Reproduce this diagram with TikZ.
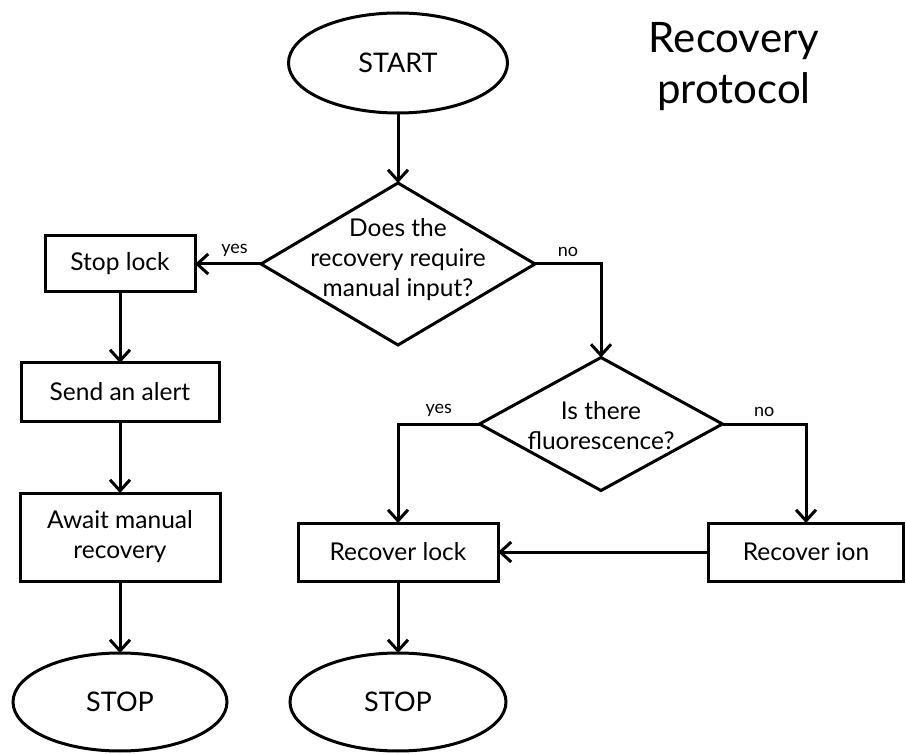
\documentclass[tikz,border=0pt]{standalone}
\usepackage{fontspec}
\setmainfont{Lato}
\usetikzlibrary{shapes.geometric,arrows.meta}

\tikzset{
  every node/.style={outer sep=0pt},
  flow/.style={line width=3pt, -{Straight Barb[length=11pt,width=20pt,line width=3pt]}},
  terminal/.style={ellipse, draw, line width=3pt, inner sep=0pt,
    font=\fontsize{27}{32}\selectfont},
  stepbox/.style={rectangle, draw, line width=3pt, inner sep=0pt, align=center,
    font=\fontsize{24.5}{30}\selectfont},
  decision/.style={diamond, draw, line width=3pt, inner sep=0pt,
    minimum width=#1},
  qtext/.style={align=center, inner sep=0pt, font=\fontsize{24.5}{30}\selectfont},
  lbl/.style={font=\fontsize{18}{20}\selectfont, inner sep=0pt},
}

\begin{document}
\begin{tikzpicture}[x=1pt, y=-1pt]
  \useasboundingbox (0,0) rectangle (906,754);

  % title
  \node[align=center, font=\fontsize{42}{51}\selectfont] (title) at (734,67)
    {Recovery\\protocol};

  % terminals
  \node[terminal, minimum width=219pt, minimum height=100pt] (start) at (398,63) {START};
  \node[terminal, minimum width=214pt, minimum height=98pt] (stopA) at (120,702) {STOP};
  \node[terminal, minimum width=216pt, minimum height=98pt] (stopB) at (398,702) {STOP};

  % decisions (text placed on a separate node)
  \node[decision=274pt, minimum height=162pt] (q1) at (398,264) {};
  \node[qtext] (q1t) at (398,260) {Does the\\recovery require\\manual input?};
  \node[decision=243pt, minimum height=133pt] (q2) at (601,424) {};
  \node[qtext] (q2t) at (601,426) {Is there\\fluorescence?};

  % process boxes
  \node[stepbox, minimum width=150pt, minimum height=56pt] (stoplock) at (120,264) {Stop lock};
  \node[stepbox, minimum width=198pt, minimum height=58pt] (alert) at (120,392) {Send an alert};
  \node[stepbox, minimum width=200pt, minimum height=88pt] (await) at (120,537) {Await manual\\recovery};
  \node[stepbox, minimum width=200pt, minimum height=58pt] (reclock) at (398,552) {Recover lock};
  \node[stepbox, minimum width=195pt, minimum height=58pt] (recion) at (806,552) {Recover ion};

  % connectors
  \draw[flow] (start) -- (q1);
  \draw[flow] (q1.west) -- node[lbl, pos=0.4, above=7pt] (yes1) {yes} (stoplock.east);
  \draw[flow] (q1.east) -| node[lbl, pos=0.25, above=7pt] (no1) {no} (q2.north);
  \draw[flow] (stoplock) -- (alert);
  \draw[flow] (alert) -- (await);
  \draw[flow] (await) -- (stopA);
  \draw[flow] (q2.west) -| node[lbl, pos=0.25, above=7pt] (yes2) {yes} (reclock.north);
  \draw[flow] (q2.east) -| node[lbl, pos=0.25, above=7pt] (no2) {no} (recion.north);
  \draw[flow] (recion.west) -- (reclock.east);
  \draw[flow] (reclock) -- (stopB);
\end{tikzpicture}
\end{document}
